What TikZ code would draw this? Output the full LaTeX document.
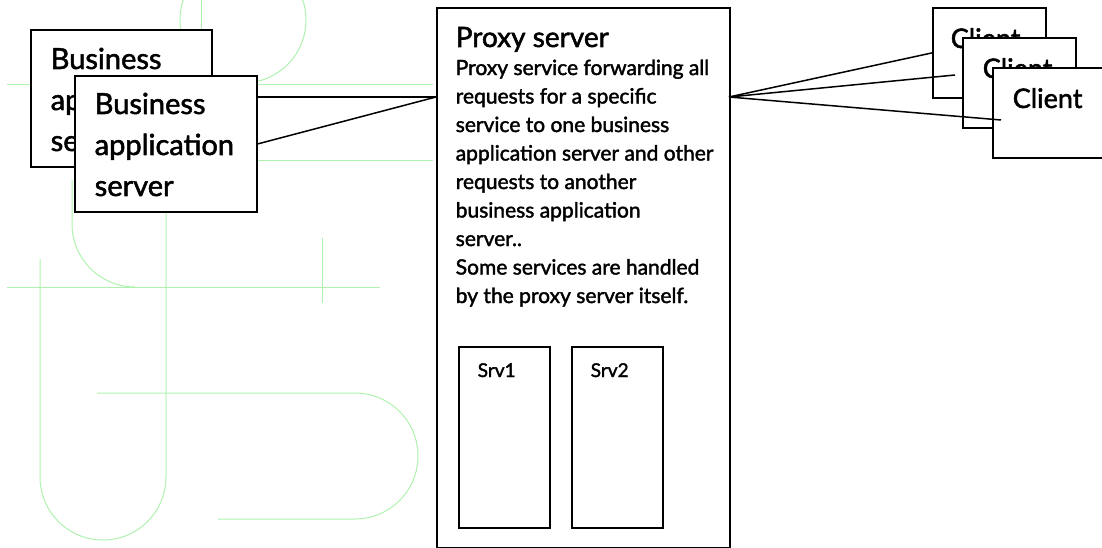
\documentclass[tikz,border=0pt]{standalone}
\usepackage{fontspec}
\setmainfont{Lato}[RawFeature={embolden=1.8}]
\usetikzlibrary{positioning}

\definecolor{wmark}{RGB}{175,242,175}

\tikzset{
	box/.style={draw, line width=1.8pt, fill=white, inner sep=0pt, anchor=north west},
	lbl/.style={inner sep=0pt, anchor=base west, align=left},
	bigfont/.style={font=\fontsize{29}{41}\selectfont},
	bodyfont/.style={font=\fontsize{21}{28.5}\selectfont},
	srvfont/.style={font=\fontsize{19}{23}\selectfont},
	clfont/.style={font=\fontsize{27}{32}\selectfont},
	mark line/.style={draw=wmark, line width=1pt}
}

\begin{document}
\begin{tikzpicture}[x=1pt, y=-1pt, line width=1.5pt]
	\useasboundingbox (0,0) rectangle (1102,548);
	% watermark in the background
	\draw[mark line] (243,20) circle (63);
	\draw[mark line] (201,0) -- (201,120);
	\draw[mark line] (7,85) -- (433,85);
	\draw[mark line] (150,161) -- (433,161);
	\draw[mark line] (7,287) -- (380,287);
	\draw[mark line] (72,180) -- (72,224) arc (180:90:63);
	\draw[mark line] (40,259) -- (40,477) arc (180:0:63) -- (166,180);
	\draw[mark line] (322,238) -- (322,303);
	\draw[mark line] (97,393) -- (355,393) arc (-90:90:63) -- (218,519);

	% business application servers (base = last line)
	\node[box, minimum width=181pt, minimum height=137pt] (bas1) at (30,29) {};
	\node[lbl, bigfont, xshift=20pt, yshift=-122pt] (bas1t) at (bas1.north west) {Business\\application\\server};
	\node[box, minimum width=182pt, minimum height=136pt] (bas2) at (74,75) {};
	\node[lbl, bigfont, xshift=20pt, yshift=-121pt] (bas2t) at (bas2.north west) {Business\\application\\server};

	% proxy server
	\node[box, minimum width=293pt, minimum height=540pt] (proxy) at (436,7) {};
	\node[lbl, font=\fontsize{28}{34}\selectfont, xshift=19pt, yshift=-40pt] (title) at (proxy.north west) {Proxy server};
	\node[lbl, bodyfont, xshift=19pt, yshift=-296pt] (body) at (proxy.north west) {Proxy service forwarding all\\requests for a specific\\service to one business\\application server and other\\requests to another\\business application\\server..\\Some services are handled\\by the proxy server itself.};
	\node[box, minimum width=91pt, minimum height=181pt] (srv1) at (458,346) {};
	\node[lbl, srvfont, xshift=19pt, yshift=-31pt] (srv1t) at (srv1.north west) {Srv1};
	\node[box, minimum width=91pt, minimum height=181pt] (srv2) at (571,346) {};
	\node[lbl, srvfont, xshift=19pt, yshift=-31pt] (srv2t) at (srv2.north west) {Srv2};

	% clients
	\node[box, minimum width=113pt, minimum height=90pt] (cl1) at (932,7) {};
	\node[lbl, clfont, xshift=18pt, yshift=-41pt] (cl1t) at (cl1.north west) {Client};
	\node[box, minimum width=113pt, minimum height=90pt] (cl2) at (962,37) {};
	\node[lbl, clfont, xshift=20pt, yshift=-41pt] (cl2t) at (cl2.north west) {Client};
	\node[box, minimum width=113pt, minimum height=90pt] (cl3) at (992,67) {};
	\node[lbl, clfont, xshift=20pt, yshift=-41pt] (cl3t) at (cl3.north west) {Client};

	% connections
	\coordinate (pin) at (436,97);
	\coordinate (pout) at (729,97);
	\coordinate (end2) at (955,75);
	\coordinate (end3) at (1001,120);
	\draw (pin) -- (pin -| bas2.east);
	\draw (pin) -- (bas2.east);
	\draw (pout) -- (cl1.west);
	\draw (pout) -- (end2);
	\draw (pout) -- (end3);
\end{tikzpicture}
\end{document}
